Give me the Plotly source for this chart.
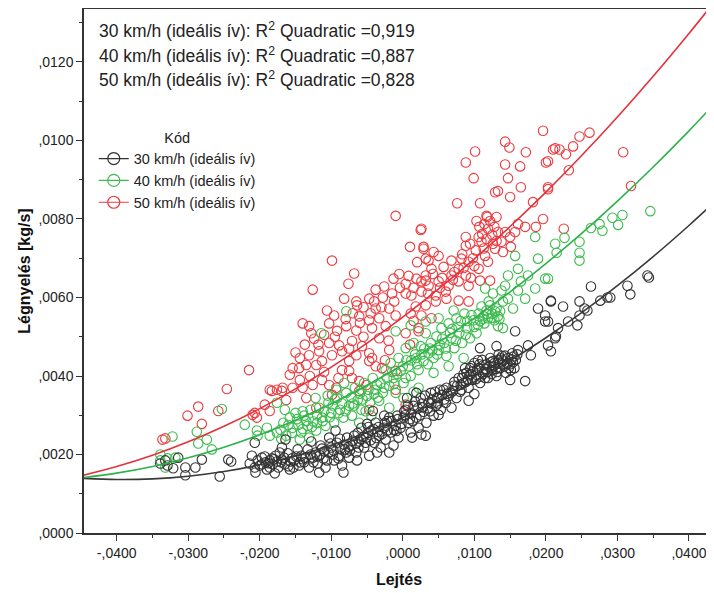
import plotly.graph_objects as go

# ---------------- data ----------------
SERIES_NAMES = ["30 km/h (ideális ív)", "40 km/h (ideális ív)", "50 km/h (ideális ív)"]
R2_VALUES = ["0,919", "0,887", "0,828"]

X_TICKS = [-0.04, -0.03, -0.02, -0.01, 0.0, 0.01, 0.02, 0.03, 0.04]
X_TICKTEXT = ["-,0400", "-,0300", "-,0200", "-,0100", ",0000", ",0100", ",0200", ",0300", ",0400"]
Y_TICKS = [0.0, 0.002, 0.004, 0.006, 0.008, 0.010, 0.012]
Y_TICKTEXT = [",0000", ",0020", ",0040", ",0060", ",0080", ",0100", ",0120"]

PTS30 = [
    (-0.0332, 0.00185), (-0.0329, 0.00172), (-0.0321, 0.00165), (-0.0314, 0.00192), (-0.0304, 0.00167),
    (-0.0304, 0.00147), (-0.0290, 0.00167), (-0.0281, 0.00187), (-0.0256, 0.00144), (-0.0244, 0.00187),
    (-0.0240, 0.00182), (-0.0339, 0.00177), (-0.0214, 0.00177), (-0.0211, 0.00197), (-0.0207, 0.00167),
    (-0.0203, 0.00185), (-0.0197, 0.00175), (-0.0193, 0.00195), (-0.0190, 0.00162), (-0.0186, 0.00185),
    (-0.0182, 0.00175), (-0.0178, 0.00197), (-0.0174, 0.00167), (-0.0169, 0.00187), (-0.0165, 0.00175),
    (-0.0161, 0.00203), (-0.0157, 0.00182), (-0.0153, 0.00167), (-0.0149, 0.00195), (-0.0144, 0.00180),
    (-0.0197, 0.00192), (-0.0186, 0.00167), (-0.0172, 0.00205), (-0.0158, 0.00162), (-0.0147, 0.00213),
    (-0.0206, 0.00154), (-0.0179, 0.00152), (-0.0207, 0.00230), (-0.0169, 0.00218), (-0.0164, 0.00238),
    (-0.0142, 0.00197), (-0.0138, 0.00180), (-0.0133, 0.00213), (-0.0131, 0.00167), (-0.0126, 0.00192),
    (-0.0122, 0.00205), (-0.0119, 0.00177), (-0.0115, 0.00223), (-0.0111, 0.00190), (-0.0108, 0.00167),
    (-0.0104, 0.00205), (-0.0100, 0.00218), (-0.0096, 0.00185), (-0.0092, 0.00230), (-0.0089, 0.00197),
    (-0.0085, 0.00172), (-0.0081, 0.00213), (-0.0078, 0.00243), (-0.0075, 0.00192), (-0.0128, 0.00233),
    (-0.0103, 0.00243), (-0.0083, 0.00154), (-0.0117, 0.00154), (-0.0094, 0.00261), (-0.0072, 0.00223),
    (-0.0068, 0.00248), (-0.0065, 0.00205), (-0.0061, 0.00233), (-0.0058, 0.00268), (-0.0054, 0.00218),
    (-0.0051, 0.00243), (-0.0047, 0.00197), (-0.0044, 0.00261), (-0.0040, 0.00230), (-0.0038, 0.00281),
    (-0.0033, 0.00248), (-0.0031, 0.00218), (-0.0026, 0.00268), (-0.0024, 0.00238), (-0.0019, 0.00294),
    (-0.0017, 0.00256), (-0.0013, 0.00223), (-0.0010, 0.00273), (-0.0006, 0.00243), (-0.0064, 0.00185),
    (-0.0050, 0.00278), (-0.0036, 0.00205), (-0.0019, 0.00205), (-0.0008, 0.00299), (-0.0026, 0.00299),
    (-0.0042, 0.00311), (-0.0003, 0.00268), (0.0001, 0.00294), (0.0004, 0.00314), (0.0008, 0.00281),
    (0.0011, 0.00256), (0.0015, 0.00324), (0.0019, 0.00294), (0.0022, 0.00268), (0.0025, 0.00344),
    (0.0029, 0.00309), (0.0033, 0.00281), (0.0036, 0.00332), (0.0039, 0.00357), (0.0043, 0.00299),
    (0.0046, 0.00324), (0.0050, 0.00344), (0.0053, 0.00314), (0.0057, 0.00365), (0.0060, 0.00332),
    (0.0064, 0.00349), (0.0013, 0.00243), (0.0032, 0.00248), (0.0026, 0.00251), (0.0050, 0.00301),
    (0.0068, 0.00319), (0.0006, 0.00344), (0.0019, 0.00357), (0.0067, 0.00357), (0.0071, 0.00375),
    (0.0075, 0.00344), (0.0078, 0.00395), (0.0082, 0.00365), (0.0085, 0.00382), (0.0089, 0.00408),
    (0.0092, 0.00370), (0.0094, 0.00420), (0.0097, 0.00390), (0.0100, 0.00433), (0.0103, 0.00403),
    (0.0106, 0.00420), (0.0108, 0.00382), (0.0111, 0.00441), (0.0114, 0.00410), (0.0117, 0.00430),
    (0.0119, 0.00395), (0.0122, 0.00446), (0.0125, 0.00415), (0.0128, 0.00433), (0.0131, 0.00400),
    (0.0133, 0.00441), (0.0136, 0.00420), (0.0139, 0.00451), (0.0142, 0.00425), (0.0144, 0.00408),
    (0.0147, 0.00446), (0.0150, 0.00430), (0.0153, 0.00458), (0.0156, 0.00420), (0.0158, 0.00441),
    (0.0092, 0.00337), (0.0100, 0.00354), (0.0108, 0.00471), (0.0131, 0.00476), (0.0157, 0.00514),
    (0.0171, 0.00387), (0.0150, 0.00390), (0.0161, 0.00466), (0.0175, 0.00478), (0.0179, 0.00453),
    (0.0189, 0.00572), (0.0199, 0.00554), (0.0199, 0.00539), (0.0207, 0.00590), (0.0213, 0.00496),
    (0.0207, 0.00463), (0.0203, 0.00539), (0.0203, 0.00478), (0.0214, 0.00501), (0.0217, 0.00522),
    (0.0224, 0.00577), (0.0231, 0.00539), (0.0244, 0.00529), (0.0247, 0.00590), (0.0247, 0.00554),
    (0.0254, 0.00572), (0.0258, 0.00567), (0.0263, 0.00628), (0.0276, 0.00592), (0.0286, 0.00600),
    (0.0290, 0.00600), (0.0314, 0.00630), (0.0318, 0.00608), (0.0342, 0.00656), (0.0344, 0.00651),
    (0.0207, 0.00592),
    (-0.0049, 0.00255), (-0.0045, 0.00236), (-0.0041, 0.00265), (-0.0037, 0.00242), (-0.0034, 0.00270),
    (-0.0029, 0.00252), (-0.0025, 0.00280), (-0.0021, 0.00262), (-0.0016, 0.00285), (-0.0012, 0.00262),
    (-0.0007, 0.00290), (-0.0002, 0.00278), (0.0003, 0.00300), (0.0007, 0.00325), (0.0012, 0.00305),
    (0.0017, 0.00335), (0.0021, 0.00318), (0.0027, 0.00330), (0.0031, 0.00350), (0.0035, 0.00318),
    (0.0041, 0.00340), (0.0045, 0.00360), (0.0049, 0.00330), (0.0055, 0.00352), (0.0061, 0.00370),
    (0.0083, 0.00395), (0.0088, 0.00385), (0.0093, 0.00402), (0.0098, 0.00412), (0.0102, 0.00392),
    (0.0107, 0.00430), (0.0112, 0.00405), (0.0116, 0.00418), (0.0121, 0.00425), (0.0126, 0.00438),
    (0.0130, 0.00418), (0.0135, 0.00432), (0.0140, 0.00440), (0.0146, 0.00432), (0.0152, 0.00442),
    (0.0155, 0.00450), (-0.0192, 0.00180), (-0.0183, 0.00190), (-0.0176, 0.00182), (-0.0166, 0.00192),
    (-0.0155, 0.00190), (-0.0140, 0.00188), (-0.0129, 0.00200), (-0.0120, 0.00195), (-0.0110, 0.00208),
    (-0.0098, 0.00200), (-0.0087, 0.00215), (-0.0079, 0.00205), (-0.0070, 0.00235), (-0.0062, 0.00218),
    (-0.0055, 0.00245),
    (-0.0200, 0.00172), (-0.0188, 0.00178), (-0.0180, 0.00188), (-0.0170, 0.00180), (-0.0160, 0.00170),
    (-0.0152, 0.00185), (-0.0145, 0.00172), (-0.0136, 0.00192), (-0.0125, 0.00180), (-0.0116, 0.00198),
    (-0.0106, 0.00185), (-0.0097, 0.00210), (-0.0090, 0.00190), (-0.0082, 0.00225), (-0.0074, 0.00210),
    (-0.0066, 0.00228), (-0.0059, 0.00240), (-0.0052, 0.00230), (0.0085, 0.00405), (0.0091, 0.00390),
    (0.0096, 0.00425), (0.0104, 0.00415), (0.0109, 0.00398), (0.0113, 0.00428), (0.0118, 0.00410),
    (0.0123, 0.00435), (0.0127, 0.00425), (0.0132, 0.00410), (0.0137, 0.00445), (0.0141, 0.00430),
    (0.0148, 0.00420), (0.0154, 0.00435), (0.0010, 0.00290), (0.0024, 0.00300), (0.0038, 0.00310),
    (0.0048, 0.00345), (0.0058, 0.00340), (0.0070, 0.00362), (0.0076, 0.00375), (0.0080, 0.00360),
    (-0.0113, 0.00215), (-0.0101, 0.00228), (-0.0088, 0.00240), (-0.0076, 0.00220), (-0.0063, 0.00255),
    (-0.0048, 0.00270), (-0.0035, 0.00258), (-0.0022, 0.00285), (-0.0009, 0.00260), (0.0002, 0.00310),
    (0.0014, 0.00285), (0.0028, 0.00320), (0.0040, 0.00330), (0.0052, 0.00365), (0.0062, 0.00355),
    (0.0072, 0.00385), (0.0081, 0.00378), (0.0087, 0.00420), (0.0095, 0.00405), (0.0105, 0.00440),
    (0.0115, 0.00395), (0.0124, 0.00405), (0.0134, 0.00455), (0.0143, 0.00452), (0.0151, 0.00415),
    (0.0160, 0.00455),
]

PTS40 = [
    (-0.0339, 0.00185), (-0.0339, 0.00200), (-0.0329, 0.00190), (-0.0322, 0.00246), (-0.0318, 0.00192),
    (-0.0288, 0.00258), (-0.0286, 0.00228), (-0.0274, 0.00238), (-0.0267, 0.00213), (-0.0253, 0.00316),
    (-0.0221, 0.00276), (-0.0204, 0.00261), (-0.0203, 0.00248), (-0.0190, 0.00268), (-0.0186, 0.00248),
    (-0.0176, 0.00256), (-0.0176, 0.00332), (-0.0332, 0.00167), (-0.0171, 0.00263), (-0.0167, 0.00281),
    (-0.0163, 0.00248), (-0.0158, 0.00294), (-0.0154, 0.00268), (-0.0150, 0.00306), (-0.0146, 0.00276),
    (-0.0142, 0.00256), (-0.0138, 0.00299), (-0.0133, 0.00273), (-0.0129, 0.00314), (-0.0125, 0.00284),
    (-0.0121, 0.00261), (-0.0117, 0.00319), (-0.0113, 0.00294), (-0.0108, 0.00273), (-0.0104, 0.00332),
    (-0.0165, 0.00314), (-0.0144, 0.00238), (-0.0131, 0.00243), (-0.0114, 0.00509), (-0.0122, 0.00344),
    (-0.0100, 0.00306), (-0.0096, 0.00281), (-0.0092, 0.00344), (-0.0088, 0.00314), (-0.0083, 0.00294),
    (-0.0079, 0.00357), (-0.0075, 0.00324), (-0.0071, 0.00299), (-0.0067, 0.00370), (-0.0063, 0.00339),
    (-0.0058, 0.00314), (-0.0054, 0.00382), (-0.0050, 0.00349), (-0.0046, 0.00332), (-0.0042, 0.00395),
    (-0.0038, 0.00365), (-0.0033, 0.00337), (-0.0079, 0.00565), (-0.0082, 0.00382), (-0.0061, 0.00281),
    (-0.0044, 0.00299), (-0.0093, 0.00365), (-0.0031, 0.00382), (-0.0028, 0.00357), (-0.0024, 0.00415),
    (-0.0019, 0.00375), (-0.0017, 0.00433), (-0.0013, 0.00395), (-0.0010, 0.00357), (-0.0006, 0.00446),
    (-0.0003, 0.00413), (0.0001, 0.00382), (0.0004, 0.00471), (0.0008, 0.00425), (0.0011, 0.00400),
    (0.0015, 0.00484), (0.0019, 0.00446), (0.0022, 0.00415), (0.0025, 0.00476), (0.0029, 0.00438),
    (0.0032, 0.00509), (0.0036, 0.00458), (0.0011, 0.00529), (-0.0010, 0.00514), (0.0032, 0.00539),
    (-0.0019, 0.00319), (0.0001, 0.00344), (0.0022, 0.00370), (0.0039, 0.00484), (0.0043, 0.00446),
    (0.0047, 0.00501), (0.0050, 0.00466), (0.0054, 0.00522), (0.0058, 0.00484), (0.0061, 0.00451),
    (0.0064, 0.00534), (0.0068, 0.00496), (0.0072, 0.00471), (0.0075, 0.00547), (0.0079, 0.00509),
    (0.0083, 0.00484), (0.0086, 0.00559), (0.0090, 0.00522), (0.0094, 0.00496), (0.0099, 0.00542),
    (0.0103, 0.00509), (0.0043, 0.00408), (0.0064, 0.00425), (0.0085, 0.00446), (0.0050, 0.00547),
    (0.0071, 0.00567), (0.0106, 0.00559), (0.0110, 0.00577), (0.0113, 0.00552), (0.0117, 0.00567),
    (0.0119, 0.00547), (0.0122, 0.00580), (0.0125, 0.00559), (0.0128, 0.00542), (0.0131, 0.00572),
    (0.0133, 0.00552), (0.0136, 0.00565), (0.0115, 0.00623), (0.0126, 0.00610), (0.0138, 0.00618),
    (0.0114, 0.00534), (0.0133, 0.00527), (0.0143, 0.00630), (0.0147, 0.00656), (0.0157, 0.00706),
    (0.0161, 0.00673), (0.0161, 0.00618), (0.0165, 0.00641), (0.0171, 0.00597), (0.0175, 0.00656),
    (0.0185, 0.00754), (0.0185, 0.00623), (0.0189, 0.00699), (0.0199, 0.00648), (0.0213, 0.00737),
    (0.0147, 0.00597), (0.0154, 0.00572), (0.0140, 0.00522), (0.0203, 0.00648), (0.0215, 0.00714),
    (0.0226, 0.00752), (0.0247, 0.00742), (0.0247, 0.00714), (0.0247, 0.00694), (0.0263, 0.00777),
    (0.0275, 0.00787), (0.0279, 0.00770), (0.0293, 0.00803), (0.0301, 0.00785), (0.0307, 0.00810),
    (0.0346, 0.00820),
    (-0.0160, 0.00275), (-0.0148, 0.00290), (-0.0135, 0.00285), (-0.0120, 0.00300), (-0.0110, 0.00310),
    (-0.0098, 0.00325), (-0.0085, 0.00330), (-0.0072, 0.00345), (-0.0060, 0.00355), (-0.0048, 0.00365),
    (-0.0036, 0.00378), (-0.0022, 0.00395), (-0.0008, 0.00405), (0.0005, 0.00440), (0.0017, 0.00455),
    (0.0030, 0.00470), (0.0041, 0.00465), (0.0055, 0.00495), (0.0066, 0.00510), (0.0078, 0.00525),
    (0.0090, 0.00540), (0.0100, 0.00525), (0.0118, 0.00558), (0.0129, 0.00565), (-0.0052, 0.00310),
    (0.0015, 0.00360),
    (-0.0170, 0.00240), (-0.0155, 0.00255), (-0.0140, 0.00265), (-0.0127, 0.00270), (-0.0112, 0.00285),
    (-0.0102, 0.00295), (-0.0090, 0.00305), (-0.0080, 0.00310), (-0.0068, 0.00325), (-0.0056, 0.00340),
    (-0.0040, 0.00355), (-0.0026, 0.00370), (-0.0012, 0.00380), (0.0004, 0.00395), (0.0020, 0.00430),
    (0.0035, 0.00430), (0.0048, 0.00455), (0.0060, 0.00470), (0.0074, 0.00490), (0.0088, 0.00505),
    (0.0105, 0.00530), (0.0112, 0.00545), (0.0124, 0.00548), (0.0135, 0.00545), (0.0140, 0.00590),
    (-0.0095, 0.00340), (-0.0070, 0.00330), (-0.0058, 0.00365), (-0.0035, 0.00345), (-0.0015, 0.00410),
    (0.0000, 0.00425), (0.0012, 0.00440), (0.0026, 0.00455), (0.0038, 0.00470), (0.0052, 0.00480),
    (0.0069, 0.00520), (0.0081, 0.00540), (0.0096, 0.00555), (0.0108, 0.00540), (0.0120, 0.00590),
    (-0.0120, 0.00280), (-0.0140, 0.00310), (-0.0105, 0.00350),
]

PTS50 = [
    (-0.0336, 0.00238), (-0.0332, 0.00241), (-0.0301, 0.00299), (-0.0286, 0.00322), (-0.0281, 0.00278),
    (-0.0258, 0.00311), (-0.0246, 0.00367), (-0.0215, 0.00415), (-0.0210, 0.00301), (-0.0207, 0.00306),
    (-0.0204, 0.00294), (-0.0193, 0.00327), (-0.0186, 0.00311), (-0.0186, 0.00365), (-0.0183, 0.00362),
    (-0.0176, 0.00365), (-0.0169, 0.00362), (-0.0010, 0.00808), (0.0025, 0.00772), (0.0010, 0.00729),
    (-0.0099, 0.00694), (-0.0068, 0.00661), (-0.0076, 0.00635), (-0.0126, 0.00620), (-0.0013, 0.00648),
    (-0.0038, 0.00620), (-0.0026, 0.00628), (-0.0047, 0.00597), (-0.0082, 0.00597), (-0.0065, 0.00590),
    (-0.0064, 0.00580), (0.0004, 0.00635), (0.0019, 0.00648), (0.0032, 0.00643), (0.0029, 0.00724),
    (0.0032, 0.00699), (0.0004, 0.00610), (-0.0019, 0.00572), (-0.0038, 0.00572), (-0.0106, 0.00567),
    (-0.0096, 0.00554), (-0.0061, 0.00552), (-0.0047, 0.00542), (-0.0033, 0.00547), (-0.0010, 0.00554),
    (0.0011, 0.00559), (0.0018, 0.00577), (-0.0140, 0.00534), (-0.0131, 0.00527), (-0.0128, 0.00509),
    (-0.0103, 0.00534), (-0.0079, 0.00527), (-0.0065, 0.00516), (-0.0043, 0.00522), (-0.0024, 0.00527),
    (0.0004, 0.00509), (0.0022, 0.00514), (-0.0103, 0.00484), (-0.0089, 0.00478), (-0.0071, 0.00489),
    (-0.0057, 0.00476), (-0.0047, 0.00458), (-0.0033, 0.00496), (-0.0019, 0.00466), (-0.0117, 0.00463),
    (-0.0131, 0.00453), (-0.0144, 0.00446), (-0.0135, 0.00428), (-0.0154, 0.00420), (-0.0121, 0.00428),
    (-0.0113, 0.00438), (-0.0099, 0.00453), (-0.0085, 0.00463), (-0.0075, 0.00438), (-0.0065, 0.00453),
    (-0.0047, 0.00438), (-0.0038, 0.00425), (-0.0029, 0.00420), (-0.0010, 0.00413), (-0.0043, 0.00446),
    (-0.0158, 0.00403), (-0.0168, 0.00370), (-0.0154, 0.00370), (-0.0140, 0.00370), (-0.0126, 0.00377),
    (-0.0144, 0.00390), (-0.0113, 0.00390), (-0.0103, 0.00377), (-0.0093, 0.00370), (-0.0075, 0.00413),
    (-0.0071, 0.00395), (-0.0061, 0.00387), (-0.0051, 0.00377), (-0.0163, 0.00339), (-0.0135, 0.00344),
    (-0.0121, 0.00319), (-0.0099, 0.00352), (-0.0061, 0.00362), (-0.0047, 0.00314), (0.0004, 0.00327),
    (-0.0010, 0.00365), (0.0196, 0.01025), (0.0143, 0.00997), (0.0149, 0.00982), (0.0172, 0.00970),
    (0.0210, 0.00977), (0.0101, 0.00972), (0.0088, 0.00944), (0.0143, 0.00939), (0.0164, 0.00934),
    (0.0200, 0.00944), (0.0099, 0.00904), (0.0147, 0.00904), (0.0165, 0.00881), (0.0129, 0.00868),
    (0.0133, 0.00871), (0.0076, 0.00840), (0.0108, 0.00840), (0.0150, 0.00856), (0.0182, 0.00843),
    (0.0203, 0.00876), (0.0103, 0.00795), (0.0107, 0.00780), (0.0111, 0.00762), (0.0114, 0.00787),
    (0.0117, 0.00749), (0.0119, 0.00775), (0.0122, 0.00795), (0.0125, 0.00759), (0.0128, 0.00780),
    (0.0131, 0.00744), (0.0133, 0.00767), (0.0110, 0.00742), (0.0118, 0.00805), (0.0126, 0.00737),
    (0.0106, 0.00754), (0.0117, 0.00808), (0.0131, 0.00805), (0.0161, 0.00787), (0.0171, 0.00780),
    (0.0186, 0.00780), (0.0196, 0.00800), (0.0143, 0.00767), (0.0157, 0.00767), (0.0150, 0.00754),
    (0.0088, 0.00754), (0.0094, 0.00737), (0.0088, 0.00732), (0.0138, 0.00742), (0.0129, 0.00724),
    (0.0140, 0.00716), (0.0151, 0.00729), (0.0026, 0.00775), (0.0029, 0.00729), (0.0043, 0.00716),
    (0.0050, 0.00706), (0.0036, 0.00694), (0.0068, 0.00694), (0.0082, 0.00699), (0.0092, 0.00691),
    (0.0115, 0.00706), (0.0119, 0.00691), (0.0106, 0.00673), (0.0078, 0.00673), (0.0057, 0.00678),
    (0.0040, 0.00673), (0.0068, 0.00656), (0.0088, 0.00656), (0.0032, 0.00656), (0.0026, 0.00641),
    (0.0036, 0.00630), (0.0050, 0.00641), (0.0064, 0.00630), (0.0078, 0.00641), (0.0092, 0.00630),
    (0.0108, 0.00643), (0.0122, 0.00643), (0.0026, 0.00615), (0.0046, 0.00605), (0.0061, 0.00597),
    (0.0078, 0.00592), (0.0092, 0.00590), (0.0032, 0.00580), (0.0046, 0.00590), (0.0026, 0.00554),
    (0.0040, 0.00547), (0.0022, 0.00522), (0.0261, 0.01020), (0.0247, 0.01010), (0.0238, 0.00985),
    (0.0228, 0.00965), (0.0213, 0.00980), (0.0219, 0.00977), (0.0203, 0.00947), (0.0232, 0.00924),
    (0.0308, 0.00970), (0.0203, 0.00881), (0.0319, 0.00884), (0.0225, 0.00775),
    (-0.0150, 0.00460), (-0.0137, 0.00480), (-0.0124, 0.00495), (-0.0110, 0.00505), (-0.0092, 0.00515),
    (-0.0080, 0.00545), (-0.0070, 0.00560), (-0.0055, 0.00575), (-0.0040, 0.00590), (-0.0028, 0.00600),
    (-0.0015, 0.00610), (-0.0004, 0.00625), (0.0008, 0.00655), (0.0015, 0.00625), (0.0042, 0.00660),
    (0.0055, 0.00650), (0.0072, 0.00665), (0.0085, 0.00675), (0.0098, 0.00700), (0.0102, 0.00720),
    (0.0113, 0.00725), (0.0095, 0.00650), (0.0060, 0.00615), (-0.0020, 0.00490), (-0.0055, 0.00500),
    (-0.0085, 0.00415), (-0.0110, 0.00410), (0.0015, 0.00540), (0.0010, 0.00480), (-0.0025, 0.00440),
    (-0.0118, 0.00480), (-0.0095, 0.00500), (-0.0075, 0.00470), (-0.0060, 0.00535), (-0.0045, 0.00560),
    (-0.0030, 0.00575), (-0.0012, 0.00590), (-0.0005, 0.00660), (0.0012, 0.00605), (0.0020, 0.00690),
    (0.0035, 0.00610), (0.0052, 0.00625), (0.0070, 0.00645), (0.0083, 0.00710), (0.0100, 0.00680),
    (-0.0090, 0.00395), (-0.0130, 0.00400), (-0.0145, 0.00420),
]

# quadratic fit lines
FIT_X = [-0.0446, -0.040, -0.035, -0.030, -0.025, -0.020, -0.015, -0.010, -0.005, 0.0,
         0.005, 0.010, 0.015, 0.020, 0.025, 0.030, 0.035, 0.040, 0.0435]
FIT30 = [0.001393, 0.001362, 0.001378, 0.001447, 0.001566, 0.001738, 0.001961, 0.002237, 0.002563, 0.002942,
         0.003373, 0.003855, 0.004389, 0.004974, 0.005612, 0.006301, 0.007042, 0.007834, 0.008420]
FIT40 = [0.001413, 0.001525, 0.001695, 0.001915, 0.002185, 0.002505, 0.002875, 0.003295, 0.003765, 0.004285,
         0.004855, 0.005475, 0.006145, 0.006865, 0.007635, 0.008455, 0.009325, 0.010245, 0.010920]
FIT50 = [0.001474, 0.001693, 0.001981, 0.002324, 0.002720, 0.003169, 0.003671, 0.004228, 0.004837, 0.005500,
         0.006217, 0.006986, 0.007809, 0.008685, 0.009616, 0.010598, 0.011635, 0.012725, 0.013520]

# ---------------- styling ----------------
MARKER_COLORS = ["#333333", "#3dbb4e", "#ec3b3f"]
LINE_COLORS = ["#3a3a3a", "#2eb24a", "#e5313c"]
FONT = "Liberation Sans, Arial, sans-serif"

fig = go.Figure()

points = [PTS30, PTS40, PTS50]
# draw red first, then green, then black (black on top as in the reference)
for idx in [2, 1, 0]:
    xs = [p[0] for p in points[idx]]
    ys = [p[1] for p in points[idx]]
    fig.add_trace(go.Scatter(
        x=xs, y=ys, mode="markers", showlegend=False, hoverinfo="x+y",
        marker=dict(symbol="circle-open", size=9.5, color=MARKER_COLORS[idx],
                    line=dict(width=1.1, color=MARKER_COLORS[idx])),
    ))

for idx, fit in enumerate([FIT30, FIT40, FIT50]):
    fig.add_trace(go.Scatter(
        x=FIT_X, y=fit, mode="lines", showlegend=False, hoverinfo="skip",
        line=dict(color=LINE_COLORS[idx], width=1.6, shape="spline"),
    ))

# legend entries
for idx, name in enumerate(SERIES_NAMES):
    fig.add_trace(go.Scatter(
        x=[None], y=[None], mode="lines+markers", name=name,
        line=dict(color=MARKER_COLORS[idx], width=1.2),
        marker=dict(symbol="circle-open", size=12, color=MARKER_COLORS[idx],
                    line=dict(width=1.2, color=MARKER_COLORS[idx])),
    ))

# R^2 annotations
ann_y = [0.960, 0.912, 0.866]
for idx, name in enumerate(SERIES_NAMES):
    fig.add_annotation(
        xref="paper", yref="paper", x=0.0206, y=ann_y[idx], xanchor="left", yanchor="middle",
        text=f"{name}: R<sup>2</sup> Quadratic ={R2_VALUES[idx]}", showarrow=False,
        font=dict(family=FONT, size=17.5, color="#222222"),
    )

axis_common = dict(
    showgrid=False, zeroline=False, showline=True, linecolor="#333333", linewidth=1.5,
    ticks="outside", ticklen=6, tickwidth=1, tickcolor="#333333", automargin=False,
    tickfont=dict(family=FONT, size=14, color="#222222"),
)

# the page body adds an 8px offset; margins compensate so the plot area
# lands at the reference position in the 714x593 window
fig.update_layout(
    width=714, height=593,
    margin=dict(l=76, r=8, t=1, b=68, autoexpand=False),
    plot_bgcolor="white", paper_bgcolor="white",
    font=dict(family=FONT, color="#222222"),
    xaxis=dict(
        range=[-0.04457, 0.04350], tickvals=X_TICKS, ticktext=X_TICKTEXT, mirror=True,
        minor=dict(ticks="outside", ticklen=3, tickvals=[-0.035, -0.025, -0.015, -0.005, 0.005, 0.015, 0.025, 0.035],
                   tickcolor="#333333"),
        title=dict(text="<b>Lejtés</b>", font=dict(family=FONT, size=16, color="#111111"), standoff=14),
        **axis_common,
    ),
    yaxis=dict(
        range=[0, 0.01335], tickvals=Y_TICKS, ticktext=Y_TICKTEXT,
        minor=dict(ticks="outside", ticklen=3, tickvals=[0.001, 0.003, 0.005, 0.007, 0.009, 0.011, 0.013],
                   tickcolor="#333333"),
        title=dict(text="<b>Légnyelés [kg/s]</b>", font=dict(family=FONT, size=16, color="#111111"), standoff=4),
        **axis_common,
    ),
    legend=dict(
        x=0.0155, y=0.781, xanchor="left", yanchor="top",
        title=dict(text="Kód", side="top center", font=dict(family=FONT, size=14.5, color="#222222")),
        font=dict(family=FONT, size=14.5, color="#222222"),
        bgcolor="rgba(0,0,0,0)", itemwidth=30, tracegroupgap=0,
    ),
)

fig.write_html("out.html")
